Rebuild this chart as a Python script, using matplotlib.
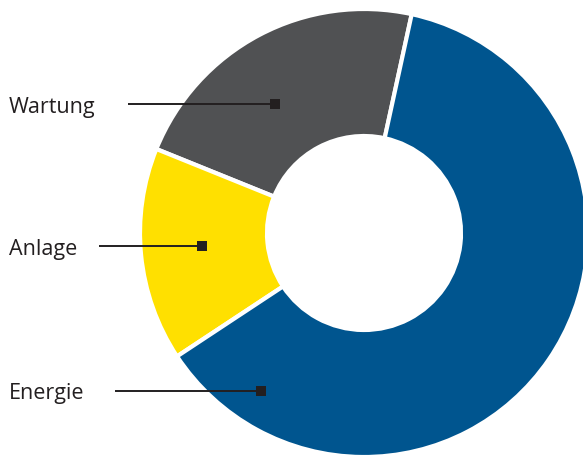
import matplotlib
matplotlib.use("Agg")
import matplotlib.pyplot as plt

# donut data, counter-clockwise from the gray/blue boundary
labels = ["Wartung", "Anlage", "Energie"]
values = [22.3, 15.4, 62.3]
colors = ["#505153", "#FFE000", "#00558F"]

# leader line positions in pixels (text end x, marker x, y)
leader_start = [128, 99, 115]
leader_end = [275, 202, 261]
leader_y = [105, 247, 392]

W, H = 583, 456
fig = plt.figure(figsize=(W / 100, H / 100), dpi=100)
ax = fig.add_axes([0, 0, 1, 1])

cx, cy, r_out, r_in = 364, H - 234, 224, 97
ax.pie(values, colors=colors, startangle=77.7, counterclock=True,
       center=(cx, cy), radius=r_out,
       wedgeprops=dict(width=r_out - r_in, edgecolor="white", linewidth=3))

dark = "#231F20"
for lab, x0, x1, y in zip(labels, leader_start, leader_end, leader_y):
    ax.plot([x0, x1], [H - y, H - y], color=dark, lw=1.4, solid_capstyle="butt")
    ax.plot([x1], [H - y], marker="s", ms=6.8, color=dark, mew=0)
    ax.text(9, H - y - 2, lab, ha="left", va="center", fontsize=15.5,
            family="Open Sans", color=dark)

ax.set_xlim(0, W)
ax.set_ylim(0, H)
ax.set_aspect("equal")
ax.axis("off")
fig.savefig("out.png", dpi=100)
